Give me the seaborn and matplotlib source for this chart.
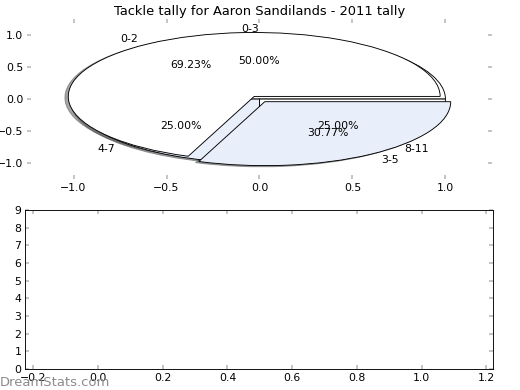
import matplotlib
matplotlib.use("Agg")
import matplotlib.pyplot as plt
import seaborn as sns

# ==================== DATA ====================
TITLE = "Tackle tally for Aaron Sandilands - 2011 tally"

# pie drawn underneath (3 bins)
labels_b = ["0-3", "4-7", "8-11"]
values_b = [2, 1, 1]            # 50% / 25% / 25%

# pie drawn on top (2 bins, both wedges pulled out a bit)
labels_a = ["0-2", "3-5"]
values_a = [9, 4]               # 69.23% / 30.77%
explode_a = [0.05, 0.05]

pie_colors = ["white", "#e9eefb"]

top_xticks = [-1.0, -0.5, 0.0, 0.5, 1.0]
top_yticks = [-1.0, -0.5, 0.0, 0.5, 1.0]
bottom_xticks = [-0.2, 0.0, 0.2, 0.4, 0.6, 0.8, 1.0, 1.2]
bottom_yticks = [0, 1, 2, 3, 4, 5, 6, 7, 8, 9]

# ==================== STYLE ====================
sns.set_theme(style="ticks", context="notebook", rc={
    "font.size": 12,
    "axes.titlesize": 14.4,
    "xtick.labelsize": 12,
    "ytick.labelsize": 12,
    "xtick.direction": "in",
    "ytick.direction": "in",
    "xtick.top": True,
    "ytick.right": True,
    "xtick.major.size": 4,
    "ytick.major.size": 4,
    "xtick.major.width": 0.5,
    "ytick.major.width": 0.5,
    "xtick.major.pad": 4,
    "ytick.major.pad": 4,
    "xtick.color": "black",
    "ytick.color": "black",
    "text.color": "black",
    "axes.edgecolor": "black",
    "axes.linewidth": 1.0,
    "axes.titlepad": 4,
})
plt.rcParams["font.family"] = ["DejaVu Sans"]

fig = plt.figure(figsize=(8, 6), dpi=65)
ax1 = fig.add_axes([0.052, 0.541, 0.894, 0.41])
ax2 = fig.add_axes([0.048, 0.054, 0.9, 0.4075])

# ==================== TOP: two overlaid pies ====================
wprops = dict(edgecolor="black", linewidth=1.0)
ax1.pie(values_b, labels=labels_b, colors=pie_colors, autopct="%1.2f%%",
        shadow=True, wedgeprops=wprops, frame=False)
ax1.pie(values_a, labels=labels_a, colors=pie_colors, autopct="%1.2f%%",
        explode=explode_a, shadow=True, wedgeprops=wprops, frame=False)

ax1.set_aspect("auto")
ax1.set_xlim(-1.25, 1.25)
ax1.set_ylim(-1.25, 1.25)
ax1.set_xticks(top_xticks)
ax1.set_yticks(top_yticks)
ax1.set_title(TITLE)

# ==================== BOTTOM: empty axes ====================
ax2.set_xlim(-0.225, 1.22)
ax2.set_ylim(0, 9)
ax2.set_xticks(bottom_xticks)
ax2.set_yticks(bottom_yticks)

fig.text(0.0, 0.01, "DreamStats.com", fontsize=14.5, color="#8c8c8c")

fig.savefig("out.png", dpi=65)
